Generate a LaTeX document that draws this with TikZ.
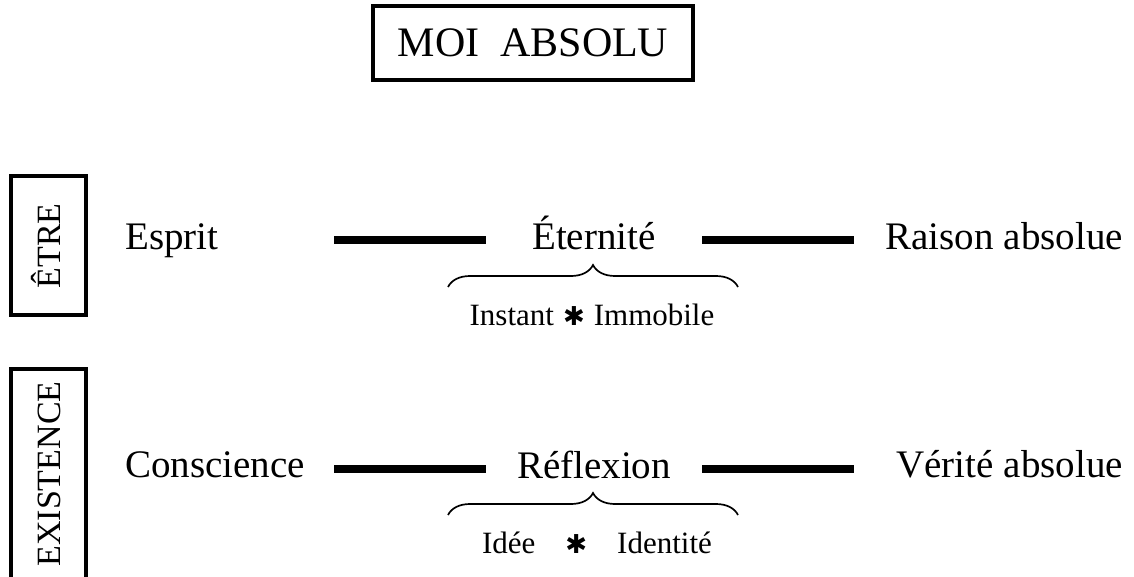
\documentclass[tikz,border=0pt]{standalone}
\usepackage{fontspec}
\setmainfont{Liberation Serif}
\newfontfamily\symfont{DejaVu Sans}
\usetikzlibrary{decorations.pathreplacing}
\tikzset{
  maintext/.style={font=\fontsize{39}{46}\selectfont, inner sep=0pt},
  subtext/.style={font=\fontsize{31}{37}\selectfont, inner sep=0pt},
  sidetext/.style={font=\fontsize{34}{40}\selectfont, inner sep=0pt, rotate=90},
  bar/.style={line width=8pt},
  boxline/.style={line width=3.5pt},
  bracepath/.style={decorate, decoration={brace, amplitude=22pt}, line width=1.7pt},
}
\newcommand{\heavyast}{{\symfont\fontsize{26}{30}\selectfont ✱}}
\begin{document}
\begin{tikzpicture}[x=1pt,y=-1pt]
\useasboundingbox (0,0) rectangle (1134,577);
% title
\node[draw, line width=4pt, minimum width=320pt, minimum height=74pt,
      font=\fontsize{42}{50}\selectfont, inner sep=0pt] (moi) at (533,43) {MOI\ \ ABSOLU};
% side boxes
\draw[boxline] (11,176) rectangle (86,315);
\node[sidetext, anchor=base] (etre) at (60,246) {ÊTRE};
\draw[boxline] (11,580) -- (11,369) -- (86,369) -- (86,580);
\node[sidetext, anchor=base] (exist) at (60,474) {EXISTENCE};
% row 1
\node[maintext, anchor=base west] (esprit) at (125,250) {Esprit};
\node[maintext, anchor=base] (eternite) at (594,250) {Éternité};
\node[maintext, anchor=base east] (raison) at (1123,250) {Raison absolue};
\coordinate (b1a) at (334,240);
\coordinate (b1b) at (486,240);
\coordinate (b1c) at (702,240);
\coordinate (b1d) at (854,240);
\draw[bar] (b1a) -- (b1b);
\draw[bar] (b1c) -- (b1d);
\coordinate (br1a) at (448,287);
\coordinate (br1b) at (738,287);
\draw[bracepath] (br1a) -- (br1b);
\node[subtext, anchor=base] (instant) at (592,325) {Instant\hspace{9pt}\heavyast\hspace{9pt}Immobile};
% row 2
\node[maintext, anchor=base west] (conscience) at (125,477) {Conscience};
\node[maintext, anchor=base] (reflexion) at (594,478) {Réflexion};
\node[maintext, anchor=base east] (verite) at (1123,477) {Vérité absolue};
\coordinate (b2a) at (334,469);
\coordinate (b2b) at (486,469);
\coordinate (b2c) at (702,469);
\coordinate (b2d) at (854,469);
\draw[bar] (b2a) -- (b2b);
\draw[bar] (b2c) -- (b2d);
\coordinate (br2a) at (448,515);
\coordinate (br2b) at (738,515);
\draw[bracepath] (br2a) -- (br2b);
\node[subtext, anchor=base] (idee) at (597,553) {Idée\hspace{30pt}\heavyast\hspace{30pt}Identité};
\end{tikzpicture}
\end{document}
